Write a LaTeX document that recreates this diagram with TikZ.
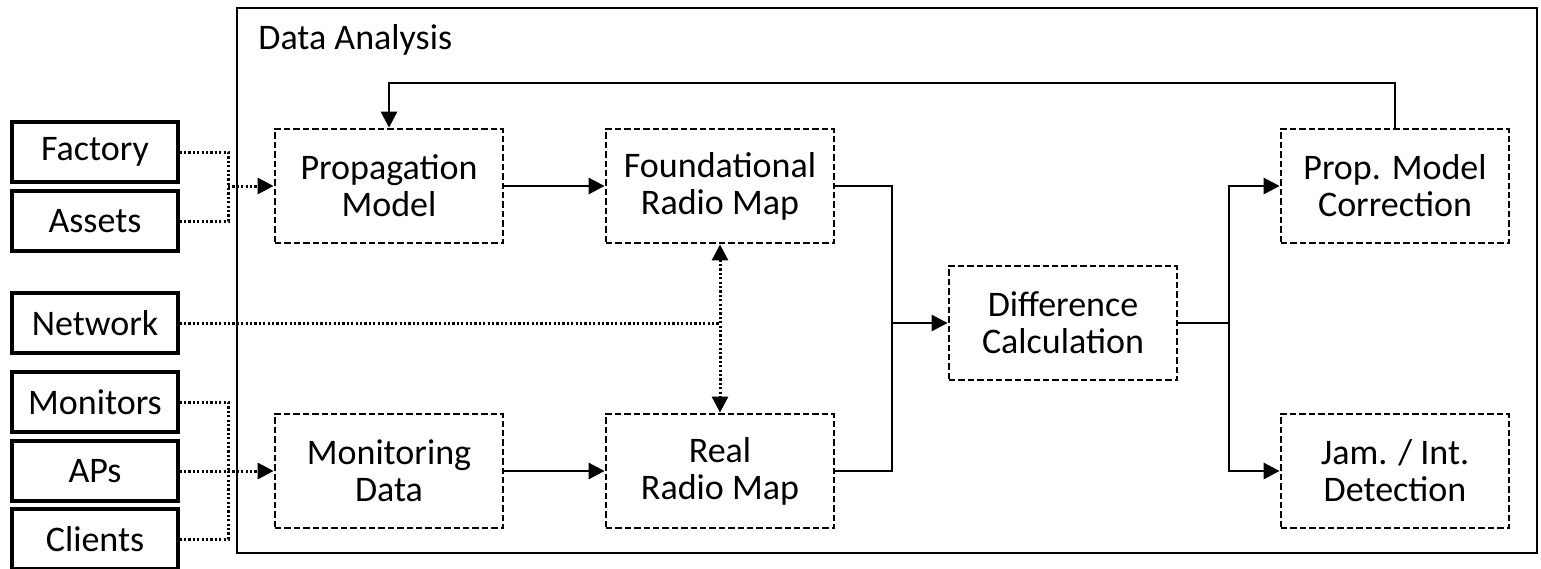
\documentclass[tikz,border=0pt]{standalone}
\usepackage{fontspec}
\setmainfont{Carlito}
\usetikzlibrary{arrows.meta}
\begin{document}
\begin{tikzpicture}[x=0.5pt,y=-0.5pt,
  every node/.style={font=\fontsize{18}{18.5}\selectfont, inner sep=0pt, align=center},
  srcbox/.style={draw, line width=1.6pt, minimum width=83pt, minimum height=30pt},
  stagebox/.style={draw, line width=1.4pt, dash pattern=on 3.2pt off 1.5pt, minimum width=114pt, minimum height=57pt},
  outerbox/.style={draw, line width=1.3pt, minimum width=650pt, minimum height=272.5pt},
  solidline/.style={line width=1.45pt},
  dotline/.style={line width=1.5pt, dash pattern=on 1.1pt off 1.1pt},
  headtip/.style={-{Triangle[length=8pt,width=8pt]}},
  bothtips/.style={{Triangle[length=8pt,width=8pt]}-{Triangle[length=8pt,width=8pt]}},
  ]
\useasboundingbox (0,0) rectangle (1541,568);

% enclosing analysis block
\node[outerbox] (analysis) at (887,280.5) {};
\node[anchor=base west] (title) at (258,49) {Data Analysis};

% data sources
\node[srcbox] (fac) at (95,152) {Factory};
\node[srcbox] (ass) at (95,221) {Assets};
\node[srcbox] (net) at (95,323) {Network};
\node[srcbox] (mon) at (95,402) {Monitors};
\node[srcbox] (aps) at (95,471) {APs};
\node[srcbox] (cli) at (95,539) {Clients};

% processing stages
\node[stagebox] (prop)  at (389,186) {Propagation\\Model};
\node[stagebox] (found) at (720,186) {Foundational\\Radio Map};
\node[stagebox] (mond)  at (389,471) {Monitoring\\Data};
\node[stagebox] (real)  at (720,471) {Real\\Radio Map};
\node[stagebox] (diff)  at (1063,323) {Difference\\Calculation};
\node[stagebox] (pmc)   at (1395,186) {Prop. Model\\Correction};
\node[stagebox] (jam)   at (1395,471) {Jam. / Int.\\Detection};

% junction points
\coordinate (ja) at (228,186);
\coordinate (jb) at (228,471);
\coordinate (jn) at (720,323);
\coordinate (jc) at (892,323);
\coordinate (jd) at (1229,323);
\coordinate (fb) at (389,83);

% inputs
\draw[dotline] (fac.east) -| (ja);
\draw[dotline] (ass.east) -| (ja);
\draw[dotline,headtip] (ja) -- (prop.west);
\draw[dotline] (mon.east) -| (jb);
\draw[dotline] (cli.east) -| (jb);
\draw[dotline,headtip] (aps.east) -- (mond.west);
\draw[dotline] (net.east) -- (jn);
\draw[dotline,bothtips] (found.south) -- (real.north);

% main flow
\draw[solidline,headtip] (prop.east) -- (found.west);
\draw[solidline,headtip] (mond.east) -- (real.west);
\draw[solidline] (found.east) -| (jc);
\draw[solidline] (real.east) -| (jc);
\draw[solidline,headtip] (jc) -- (diff.west);
\draw[solidline] (diff.east) -- (jd);
\draw[solidline,headtip] (jd) |- (pmc.west);
\draw[solidline,headtip] (jd) |- (jam.west);

% feedback loop
\draw[solidline,headtip] (pmc.north) |- (fb) -- (prop.north);
\end{tikzpicture}
\end{document}
